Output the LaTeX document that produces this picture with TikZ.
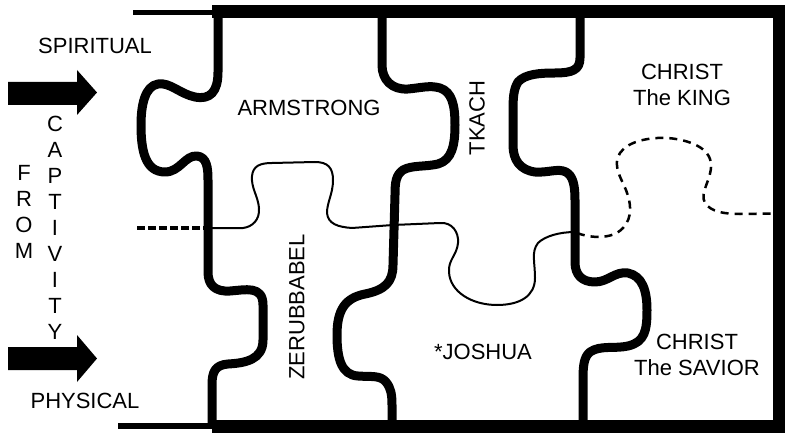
\documentclass[tikz,border=0pt]{standalone}
\usepackage{fontspec}
\setmainfont{Liberation Sans}
\begin{document}
\begin{tikzpicture}[x=1pt,y=-1pt,
  puzzle/.style={line width=9pt, line cap=butt, line join=round},
  frame/.style={line width=13pt, line join=miter, line cap=butt},
  stub/.style={line width=5.5pt, line cap=butt},
  seam/.style={line width=2pt, line join=round},
  seamdash/.style={line width=2.5pt, dash pattern=on 8pt off 6pt},
  leftdash/.style={line width=4.5pt, dash pattern=on 8pt off 3pt},
  lbl/.style={font=\fontsize{22}{26}\selectfont, inner sep=0pt, align=center},
  blockarrow/.style={fill=black}]
\useasboundingbox (0,0) rectangle (785,433);

% frame
\draw[frame] (212,11.5) -- (779,11.5) -- (779,426) -- (212,426);
\draw[stub] (133,12.5) -- (212,12.5);
\draw[stub] (118,426) -- (212,426);

% left edge
\draw[puzzle] (218,12) -- (218,72)
  .. controls (218,92) and (210,100) .. (195,97)
  .. controls (180,94) and (170,82) .. (158,84)
  .. controls (145,86) and (141,105) .. (141,125)
  .. controls (141,150) and (145,172) .. (165,172)
  .. controls (180,172) and (185,155) .. (197,156)
  .. controls (207,157) and (208,168) .. (208,180)
  -- (208,272)
  .. controls (208,285) and (215,292) .. (230,291)
  .. controls (245,290) and (263,285) .. (263,305)
  -- (263,340)
  .. controls (263,360) and (245,363) .. (228,364)
  .. controls (215,365) and (212,372) .. (212,385)
  -- (212,426);

% line A
\draw[puzzle] (382,12) -- (382,65)
  .. controls (382,80) and (392,90) .. (408,89)
  .. controls (420,88) and (430,85) .. (440,88)
  .. controls (452,92) and (455,105) .. (455,125)
  .. controls (455,145) and (452,160) .. (438,164)
  .. controls (425,167) and (412,165) .. (403,170)
  .. controls (396,175) and (395,182) .. (395,195)
  -- (393,265)
  .. controls (393,282) and (385,290) .. (365,294)
  .. controls (345,298) and (337,310) .. (337,335)
  .. controls (337,360) and (342,375) .. (358,376)
  .. controls (372,377) and (380,375) .. (386,382)
  .. controls (391,388) and (392,395) .. (392,405)
  -- (392,426);

% line B
\draw[puzzle] (580,12) -- (580,58)
  .. controls (580,70) and (572,73) .. (555,73)
  .. controls (540,73) and (525,74) .. (518,82)
  .. controls (513,90) and (513,100) .. (513,115)
  -- (513,145)
  .. controls (513,160) and (520,170) .. (535,172)
  .. controls (548,173) and (558,168) .. (566,172)
  .. controls (573,176) and (575,185) .. (575,200)
  -- (575,262)
  .. controls (575,275) and (582,282) .. (595,282)
  .. controls (608,282) and (615,271) .. (628,273)
  .. controls (642,276) and (647,290) .. (647,310)
  .. controls (647,330) and (645,342) .. (628,346)
  .. controls (615,349) and (600,345) .. (590,352)
  .. controls (584,357) and (583,365) .. (583,380)
  -- (583,426);

% thin seam
\draw[seam] (208,228) -- (243,228)
  .. controls (252,227) and (260,220) .. (259,208)
  .. controls (258,196) and (251,188) .. (252,176)
  .. controls (253,166) and (260,163) .. (272,163)
  -- (315,162)
  .. controls (328,162) and (333,168) .. (333,180)
  .. controls (333,194) and (327,202) .. (327,213)
  .. controls (328,224) and (338,227) .. (352,228)
  -- (393,225)
  -- (440,223)
  .. controls (452,222) and (459,232) .. (458,243)
  .. controls (457,255) and (448,260) .. (449,272)
  .. controls (450,292) and (472,305) .. (497,305)
  .. controls (520,305) and (535,296) .. (535,278)
  .. controls (535,262) and (531,252) .. (538,243)
  .. controls (545,236) and (560,232) .. (575,232);

% dashed seam right
\draw[seamdash] (577,233)
  .. controls (590,238) and (612,240) .. (623,228)
  .. controls (633,217) and (631,203) .. (626,190)
  .. controls (621,178) and (612,165) .. (620,153)
  .. controls (628,141) and (650,137) .. (668,138)
  .. controls (690,140) and (710,148) .. (711,164)
  .. controls (712,180) and (699,192) .. (705,203)
  .. controls (711,212) and (725,214) .. (740,214)
  -- (773,213.5);

% dashed seam left
\draw[leftdash] (137,228) -- (207,228);

% block arrows
\fill[blockarrow] (8,82) -- (77,82) -- (77,70) -- (97,92.5) -- (77,115) -- (77,105) -- (8,105) -- cycle;
\fill[blockarrow] (8,347) -- (77,347) -- (77,335) -- (97,358.5) -- (77,382) -- (77,370) -- (8,370) -- cycle;

% labels
\node[lbl] (spiritual) at (95,46) {SPIRITUAL};
\node[lbl] (physical) at (85,401) {PHYSICAL};
\node[lbl] (from) at (24,212) {F\\R\\O\\M};
\node[lbl] (captivity) at (55,228) {C\\A\\P\\T\\I\\V\\I\\T\\Y};
\node[lbl] (armstrong) at (309,108) {ARMSTRONG};
\node[lbl, rotate=90] (tkach) at (477,118) {TKACH};
\node[lbl] (king) at (682,85) {CHRIST\\The KING};
\node[lbl, rotate=90] (zerubbabel) at (297,307) {ZERUBBABEL};
\node[lbl] (joshua) at (483,352) {*JOSHUA};
\node[lbl] (savior) at (697,355) {CHRIST\\The SAVIOR};
\end{tikzpicture}
\end{document}
